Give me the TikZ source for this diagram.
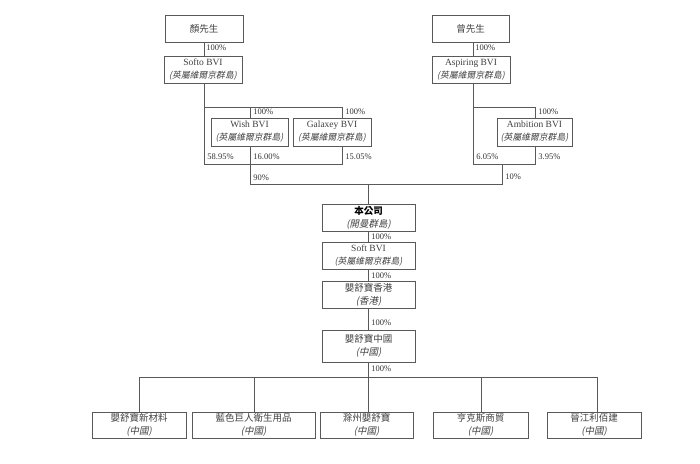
\documentclass[tikz,border=0pt]{standalone}
\usepackage{fontspec}
\setmainfont{Liberation Serif}
\newfontfamily\cjk{Noto Sans CJK TC}
\newfontfamily\cjkit{Noto Sans CJK TC}[FakeSlant=0.2]
\usepackage{tikz}
\usetikzlibrary{positioning,calc}
\tikzset{
    every picture/.style={line width=0.8pt},
    entity/.style={draw=black!65,text=black!75,align=center,inner sep=0pt,
        minimum height=27pt,font=\fontsize{9.5}{13}\selectfont},
    share/.style={anchor=west,inner sep=0pt,text=black!80,font=\fontsize{8.5}{10}\selectfont},
    link/.style={draw=black!65}
}
\newcommand{\bvi}{{\fontsize{8.8}{13}\selectfont\cjkit (英屬維爾京群島)}}
\newcommand{\prc}{{\cjkit (中國)}}

\begin{document}
\begin{tikzpicture}[x=1pt,y=-1pt]
    \useasboundingbox (0,0) rectangle (700,463);
    \node[entity,minimum width=78pt] (yan) at (204,28.5) {\cjk 顏先生};
    \node[entity,minimum width=78pt] (softo) at (203,69.5) {Softo BVI\\\bvi};
    \node[entity,minimum width=77pt,minimum height=28pt] (wish) at (249.5,132) {Wish BVI\\\bvi};
    \node[entity,minimum width=78pt,minimum height=28pt] (galaxey) at (332,132) {Galaxey BVI\\\bvi};
    \node[entity,minimum width=77pt] (zeng) at (470.5,28.5) {\cjk 曾先生};
    \node[entity,minimum width=78pt] (aspiring) at (471,69.5) {Aspiring BVI\\\bvi};
    \node[entity,minimum width=75pt,minimum height=28pt] (ambition) at (534.5,132) {Ambition BVI\\\bvi};
    \node[entity,minimum width=93pt] (company) at (368.5,217.5) {{\cjk\bfseries\color{black} 本公司}\\{\cjkit (開曼群島)}};
    \node[entity,minimum width=93pt] (softbvi) at (368.5,255.5) {Soft BVI\\\bvi};
    \node[entity,minimum width=93pt] (hk) at (368.5,294.5) {{\cjk 嬰舒寶香港}\\{\cjkit (香港)}};
    \node[entity,minimum width=93pt,minimum height=32pt] (china) at (368.5,346) {{\cjk 嬰舒寶中國}\\\prc};
    \node[entity,minimum width=94pt,minimum height=26pt] (sub1) at (139,425) {{\cjk 嬰舒寶新材料}\\\prc};
    \node[entity,minimum width=123pt,minimum height=26pt] (sub2) at (253.5,425) {{\cjk 藍色巨人衛生用品}\\\prc};
    \node[entity,minimum width=93pt,minimum height=26pt] (sub3) at (366.5,425) {{\cjk 滁州嬰舒寶}\\\prc};
    \node[entity,minimum width=95pt,minimum height=26pt] (sub4) at (480.5,425) {{\cjk 亨克斯商貿}\\\prc};
    \node[entity,minimum width=94pt,minimum height=26pt] (sub5) at (594,425) {{\cjk 晉江利佰建}\\\prc};

    \coordinate (lt) at (204,107);
    \coordinate (lb) at (204,164);
    \coordinate (lr) at (342,164);
    \coordinate (rt) at (473,107);
    \coordinate (rb) at (473,164);
    \coordinate (rr) at (535,164);
    \coordinate (lj) at (250,184);
    \coordinate (rj) at (502,184);
    \coordinate (bus) at (368,377);
    \coordinate (bl) at (139,377);
    \coordinate (bm) at (254,377);
    \coordinate (bn) at (481,377);
    \coordinate (br) at (597,377);

    \draw[link] (yan.south -| lt) -- (softo.north -| lt);
    \draw[link] (softo.south -| lt) -- (lb) -- (lr) -- (galaxey.south -| lr);
    \draw[link] (lt) -- (lt -| lr) -- (galaxey.north -| lr);
    \draw[link] (lt -| lj) -- (wish.north -| lj);
    \draw[link] (wish.south -| lj) -- (lj) -- (rj) -- (rj |- rb);
    \draw[link] (zeng.south -| rt) -- (aspiring.north -| rt);
    \draw[link] (aspiring.south -| rt) -- (rb) -- (rr) -- (ambition.south -| rr);
    \draw[link] (rt) -- (rt -| rr) -- (ambition.north -| rr);
    \draw[link] (lj -| bus) -- (company.north -| bus);
    \draw[link] (company.south -| bus) -- (softbvi.north -| bus);
    \draw[link] (softbvi.south -| bus) -- (hk.north -| bus);
    \draw[link] (hk.south -| bus) -- (china.north -| bus);
    \draw[link] (china.south -| bus) -- (bus);
    \draw[link] (bl) -- (br);
    \draw[link] (bl) -- (bl |- sub1.north);
    \draw[link] (bm) -- (bm |- sub2.north);
    \draw[link] (bus) -- (bus |- sub3.north);
    \draw[link] (bn) -- (bn |- sub4.north);
    \draw[link] (br) -- (br |- sub5.north);

    \node[share] (p1) at (206,48) {100\%};
    \node[share] (p2) at (253,112) {100\%};
    \node[share] (p3) at (345,112) {100\%};
    \node[share] (p4) at (207,157) {58.95\%};
    \node[share] (p5) at (253,157) {16.00\%};
    \node[share] (p6) at (345,157) {15.05\%};
    \node[share] (p7) at (253,178) {90\%};
    \node[share] (p8) at (475,48) {100\%};
    \node[share] (p9) at (538,112) {100\%};
    \node[share] (p10) at (476,157) {6.05\%};
    \node[share] (p11) at (538,157) {3.95\%};
    \node[share] (p12) at (505,177) {10\%};
    \node[share] (p13) at (371,237) {100\%};
    \node[share] (p14) at (371,276) {100\%};
    \node[share] (p15) at (371,323) {100\%};
    \node[share] (p16) at (371,369) {100\%};
\end{tikzpicture}
\end{document}
